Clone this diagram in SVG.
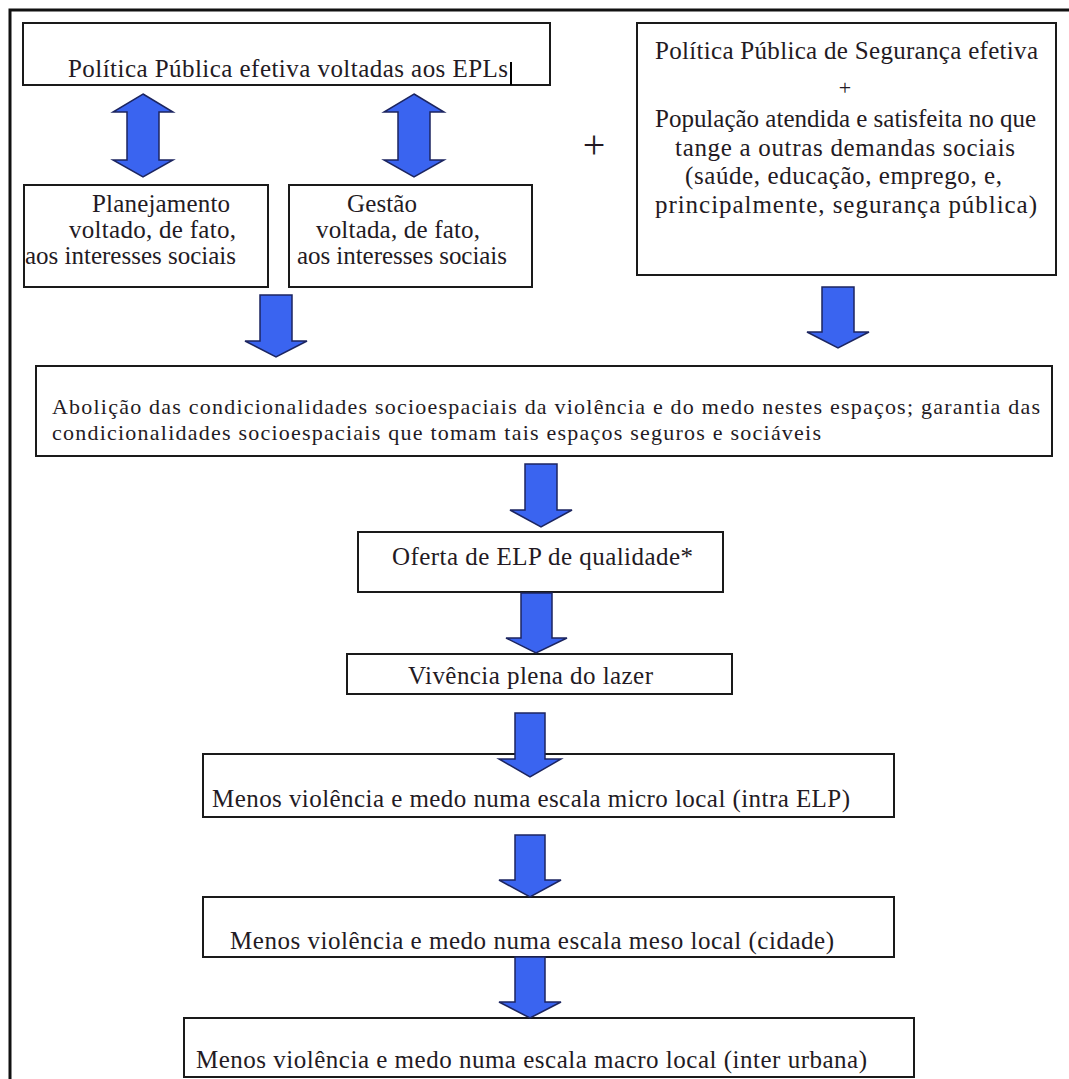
<svg xmlns="http://www.w3.org/2000/svg" width="1069" height="1079" viewBox="0 0 1069 1079">
<style>
.box{fill:#fff;stroke:#1a1a1a;stroke-width:2}
.t{font-family:"Liberation Serif","Times New Roman",serif;font-size:25px;fill:#231a23}
.s{font-size:22px}
.c{text-anchor:middle}
.arr{fill:#3a64f0;stroke:#1c2560;stroke-width:1.5;stroke-linejoin:miter}
</style>
<rect x="0" y="0" width="1069" height="1079" fill="#fff"/>
<rect id="frame" x="10" y="10" width="1080" height="1090" fill="none" stroke="#111" stroke-width="3"/>

<g id="n-politica-epl">
<rect class="box" x="23" y="23" width="527" height="62"/>
<text class="t" x="68" y="77" textLength="440" lengthAdjust="spacing">Política Pública efetiva voltadas aos EPLs</text>
<line x1="511" y1="62" x2="511" y2="85" stroke="#000" stroke-width="2"/>
</g>

<g id="n-planejamento">
<rect class="box" x="24" y="185" width="244" height="102"/>
<text class="t" x="92" y="212" textLength="138" lengthAdjust="spacing">Planejamento</text>
<text class="t" x="69" y="238" textLength="167" lengthAdjust="spacing">voltado, de fato,</text>
<text class="t" x="25" y="264" textLength="211" lengthAdjust="spacing">aos interesses sociais</text>
</g>

<g id="n-gestao">
<rect class="box" x="289" y="185" width="243" height="102"/>
<text class="t" x="347" y="212" textLength="70" lengthAdjust="spacing">Gestão</text>
<text class="t" x="316" y="238" textLength="164" lengthAdjust="spacing">voltada, de fato,</text>
<text class="t" x="297" y="264" textLength="210" lengthAdjust="spacing">aos interesses sociais</text>
</g>

<g id="n-plus">
<text class="t" x="594" y="158" style="font-size:40px" text-anchor="middle">+</text>
</g>

<g id="n-seguranca">
<rect class="box" x="637" y="23" width="419" height="252"/>
<text class="t" x="655" y="59" textLength="383" lengthAdjust="spacing">Política Pública de Segurança efetiva</text>
<text class="t c" x="845" y="95" style="font-size:22px">+</text>
<text class="t" x="655" y="127" textLength="381" lengthAdjust="spacing">População atendida e satisfeita no que</text>
<text class="t" x="675" y="156" textLength="340" lengthAdjust="spacing">tange a outras demandas sociais</text>
<text class="t" x="685" y="184" textLength="317" lengthAdjust="spacing">(saúde, educação, emprego, e,</text>
<text class="t" x="655" y="213" textLength="382" lengthAdjust="spacing">principalmente, segurança pública)</text>
</g>

<g id="n-abolicao">
<rect class="box" x="36" y="366" width="1016" height="90"/>
<text class="t s" x="52" y="414" textLength="988" lengthAdjust="spacing">Abolição das condicionalidades socioespaciais da violência e do medo nestes espaços; garantia das</text>
<text class="t s" x="52" y="440" textLength="769" lengthAdjust="spacing">condicionalidades socioespaciais que tomam tais espaços seguros e sociáveis</text>
</g>

<g id="n-oferta">
<rect class="box" x="358" y="532" width="365" height="60"/>
<text class="t" x="392" y="565" textLength="301" lengthAdjust="spacing">Oferta de ELP de qualidade*</text>
</g>

<g id="n-vivencia">
<rect class="box" x="347" y="654" width="385" height="40"/>
<text class="t" x="408" y="684" textLength="245" lengthAdjust="spacing">Vivência plena do lazer</text>
</g>

<g id="n-micro">
<rect class="box" x="203" y="754" width="691" height="63"/>
<text class="t" x="212" y="807" textLength="638" lengthAdjust="spacing">Menos violência e medo numa escala micro local (intra ELP)</text>
</g>

<g id="n-meso">
<rect class="box" x="203" y="897" width="691" height="60"/>
<text class="t" x="230" y="949" textLength="604" lengthAdjust="spacing">Menos violência e medo numa escala meso local (cidade)</text>
</g>

<g id="n-macro">
<rect class="box" x="184" y="1018" width="730" height="59"/>
<text class="t" x="196" y="1068" textLength="671" lengthAdjust="spacing">Menos violência e medo numa escala macro local (inter urbana)</text>
</g>

<g id="connectors">
<path class="arr" d="M143,94 L173,112 L159,112 L159,160 L173,160 L143,177 L113,160 L127,160 L127,112 L113,112 Z"/>
<path class="arr" d="M414,94 L444,112 L430,112 L430,160 L444,160 L414,177 L384,160 L398,160 L398,112 L384,112 Z"/>
<path class="arr" d="M260,295 L292,295 L292,341 L307,341 L276,357 L245,341 L260,341 Z"/>
<path class="arr" d="M822,287 L854,287 L854,332 L869,332 L838,348 L807,332 L822,332 Z"/>
<path class="arr" d="M525,464 L557,464 L557,510 L572,510 L541,527 L510,510 L525,510 Z"/>
<path class="arr" d="M521,593 L552,593 L552,638 L567,638 L536,653 L506,638 L521,638 Z"/>
<path class="arr" d="M515,713 L545,713 L545,759 L561,759 L530,777 L499,759 L515,759 Z"/>
<path class="arr" d="M515,835 L545,835 L545,880 L561,880 L530,897 L499,880 L515,880 Z"/>
<path class="arr" d="M515,957 L545,957 L545,1002 L561,1002 L530,1018 L499,1002 L515,1002 Z"/>
</g>
</svg>
